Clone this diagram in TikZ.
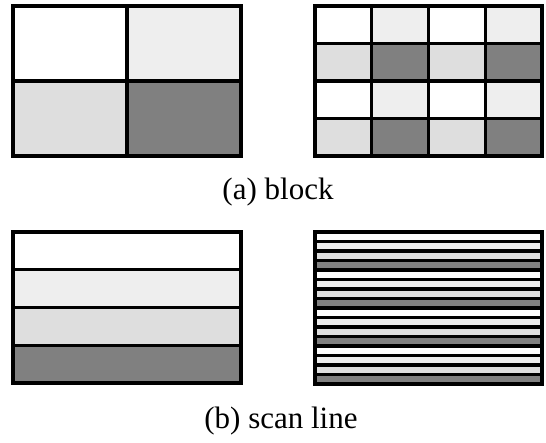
\documentclass[tikz,border=0pt]{standalone}
\usepackage{fontspec}
\setmainfont{Liberation Serif}
\definecolor{shade0}{HTML}{FFFFFF}
\definecolor{shade1}{HTML}{EEEEEE}
\definecolor{shade2}{HTML}{DEDEDE}
\definecolor{shade3}{HTML}{808080}

\begin{document}
\begin{tikzpicture}[x=0.5pt,y=-0.5pt,
    cell/.style={draw=black,line width=1.6pt},
    caption/.style={inner sep=0pt,anchor=base,font=\fontsize{15.5}{18}\selectfont}]
  \useasboundingbox (0,0) rectangle (546,443);

  % (a) block, coarse
  \foreach \col in {0,1}
    \foreach \row in {0,1} {
      \pgfmathtruncatemacro{\s}{2*\row+\col}
      \filldraw[cell,fill=shade\s] ({13+\col*114},{6+\row*75}) rectangle +(114,75);
    }
  % (a) block, fine
  \foreach \col in {0,...,3}
    \foreach \row in {0,...,3} {
      \pgfmathtruncatemacro{\s}{2*mod(\row,2)+mod(\col,2)}
      \filldraw[cell,fill=shade\s] ({315+\col*56.75},{6+\row*37.5}) rectangle +(56.75,37.5);
    }
  \node[caption] (capA) at (278,200) {(a) block};

  % (b) scan line
  \foreach \row in {0,...,3}
    \filldraw[cell,fill=shade\row] (13,{232+\row*37.75}) rectangle +(228,37.75);
  \foreach \row in {0,...,15} {
    \pgfmathtruncatemacro{\s}{mod(\row,4)}
    \filldraw[cell,fill=shade\s] (315,{232+\row*9.5}) rectangle +(227,9.5);
  }
  \node[caption] (capB) at (281,428) {(b) scan line};
\end{tikzpicture}
\end{document}
